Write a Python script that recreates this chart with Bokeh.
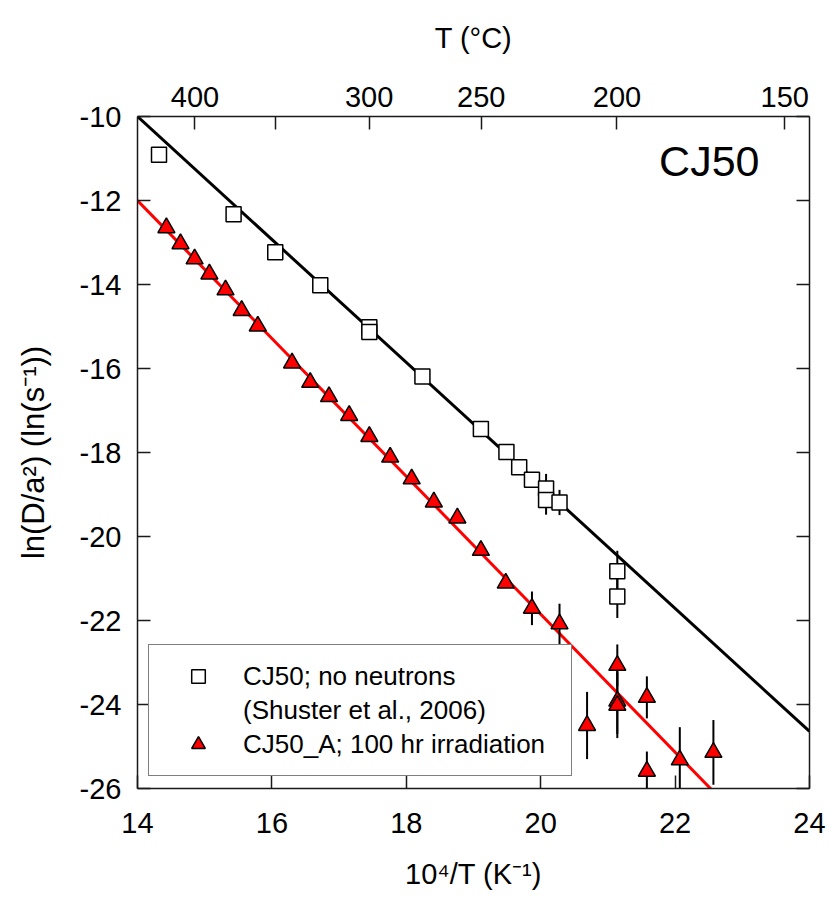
from bokeh.plotting import figure
from bokeh.models import (LinearAxis, FixedTicker, CustomJSTickFormatter, Label,
                          Legend, LegendItem, ColumnDataSource)
from bokeh.embed import file_html
from bokeh.resources import INLINE

# ---------------- data ----------------
x_ticks = [14, 16, 18, 20, 22, 24]
y_ticks = [-10, -12, -14, -16, -18, -20, -22, -24, -26]
top_temps_C = [400, 350, 300, 250, 200, 150]
top_tick_labels = ["400", "", "300", "250", "200", "150"]

x_title = "10⁴/T (K⁻¹)"
y_title = "ln(D/a²) (ln(s⁻¹))"
top_title = "T (°C)"
sample_name = "CJ50"

# CJ50; no neutrons (Shuster et al., 2006)
sq_x = [14.32, 15.43, 16.05, 16.72, 17.45, 17.45, 18.24, 19.11, 19.49, 19.68,
        19.87, 20.08, 20.08, 20.28, 21.14, 21.14]
sq_y = [-10.91, -12.33, -13.23, -14.02, -15.02, -15.13, -16.19, -17.44, -17.99, -18.35,
        -18.65, -18.86, -19.13, -19.19, -20.83, -21.43]
sq_err = [0, 0, 0, 0, 0, 0, 0, 0, 0, 0,
          0, 0.35, 0.35, 0.30, 0.49, 0.51]

# CJ50_A; 100 hr irradiation
tri_x = [14.43, 14.64, 14.85, 15.07, 15.31, 15.55, 15.79, 16.30, 16.57, 16.85,
         17.15, 17.45, 17.76, 18.08, 18.41, 18.76, 19.11, 19.48, 19.87, 20.28,
         20.69, 21.14, 21.14, 21.14, 21.58, 21.58, 22.07, 22.57]
tri_y = [-12.65, -13.03, -13.39, -13.75, -14.13, -14.62, -14.99, -15.87, -16.33, -16.67,
         -17.12, -17.62, -18.11, -18.63, -19.18, -19.56, -20.33, -21.11, -21.71, -22.08,
         -24.50, -23.07, -23.92, -24.02, -23.83, -25.59, -25.32, -25.14]
tri_err = [0, 0, 0, 0, 0, 0, 0, 0, 0, 0,
           0, 0, 0, 0, 0, 0, 0, 0, 0.40, 0.48,
           0.80, 0.50, 0.78, 0.78, 0.50, 0.47, 0.78, 0.77]

# Arrhenius fit lines
fit_x = [14.0, 24.0]
fit_black_y = [-10.0, -24.64]
fit_red_y = [-12.0, -28.42]

FONT = "Liberation Sans"
AXC = "#1a1a1a"

p = figure(frame_width=672, frame_height=672, x_range=(14, 24), y_range=(-26, -10),
           output_backend="svg", toolbar_location=None,
           x_axis_location=None, y_axis_location=None,
           min_border_left=137, min_border_right=21, min_border_top=116, min_border_bottom=117,
           background_fill_color="white", border_fill_color="white")
p.xgrid.visible = False
p.ygrid.visible = False
p.outline_line_color = None


def style_axis(ax, size="29px", standoff=16):
    ax.axis_line_color = AXC
    ax.axis_line_width = 1.5
    ax.major_tick_line_color = AXC
    ax.major_tick_line_width = 1.5
    ax.major_tick_in = 13
    ax.major_tick_out = 0
    ax.minor_tick_line_color = None
    ax.major_label_text_font = FONT
    ax.major_label_text_font_size = size
    ax.major_label_text_color = "black"
    ax.major_label_standoff = standoff
    ax.axis_label_text_font = FONT
    ax.axis_label_text_font_size = "29px"
    ax.axis_label_text_font_style = "normal"
    ax.axis_label_text_color = "black"


int_fmt = CustomJSTickFormatter(code="return String(Math.round(tick));")
blank_fmt = CustomJSTickFormatter(code="return '';")

bottom = LinearAxis(ticker=FixedTicker(ticks=x_ticks), formatter=int_fmt)
style_axis(bottom, standoff=24)
bottom.axis_label = x_title
bottom.axis_label_standoff = 22
p.add_layout(bottom, "below")

left = LinearAxis(ticker=FixedTicker(ticks=y_ticks), formatter=int_fmt)
style_axis(left, standoff=16)
left.axis_label = y_title
left.axis_label_standoff = 26
left.axis_label_text_font_size = "31px"
p.add_layout(left, "left")

right = LinearAxis(ticker=FixedTicker(ticks=y_ticks), formatter=blank_fmt)
style_axis(right)
p.add_layout(right, "right")

top_ticks = [1e4 / (t + 273.15) for t in top_temps_C]
top_fmt = CustomJSTickFormatter(args=dict(tvals=top_ticks, tlabels=top_tick_labels), code="""
for (let i = 0; i < tvals.length; i++) {
  if (Math.abs(tvals[i] - tick) < 1e-6) return tlabels[i];
}
return '';
""")
top = LinearAxis(ticker=FixedTicker(ticks=top_ticks), formatter=top_fmt)
style_axis(top, standoff=10)
top.axis_label = top_title
top.axis_label_standoff = 30
p.add_layout(top, "above")

# fit lines
p.line(fit_x, fit_black_y, line_color="black", line_width=3)
p.line(fit_x, fit_red_y, line_color="red", line_width=3)

# error bars
def err_source(xs, ys, es):
    d = dict(x=[], lo=[], hi=[])
    for x, y, e in zip(xs, ys, es):
        if e > 0:
            d["x"].append(x)
            d["lo"].append(y - e)
            d["hi"].append(y + e)
    return ColumnDataSource(d)

p.segment(x0="x", y0="lo", x1="x", y1="hi", source=err_source(sq_x, sq_y, sq_err),
          line_color="black", line_width=2)
p.segment(x0="x", y0="lo", x1="x", y1="hi", source=err_source(tri_x, tri_y, tri_err),
          line_color="black", line_width=2)

r_sq = p.scatter(sq_x, sq_y, marker="square", size=15, fill_color="white",
                 line_color="black", line_width=1.5)
r_tri = p.scatter(tri_x, tri_y, marker="triangle", size=17, fill_color="red",
                  line_color="black", line_width=1.5)
r_blank = p.scatter([], [], marker="square", size=1, fill_color=None, line_color=None)

legend = Legend(items=[
    LegendItem(label="CJ50; no neutrons", renderers=[r_sq]),
    LegendItem(label="(Shuster et al., 2006)", renderers=[r_blank]),
    LegendItem(label="CJ50_A; 100 hr irradiation", renderers=[r_tri]),
], location=(11, 12), padding=14, spacing=0, glyph_height=34, glyph_width=70,
    label_standoff=10, label_width=314, margin=0,
    label_text_font=FONT, label_text_font_size="26px", label_text_color="black",
    border_line_color="black", border_line_width=1.5, background_fill_color="white",
    background_fill_alpha=1.0)
p.add_layout(legend, "center")

p.add_layout(Label(x=622, y=628, x_units="screen", y_units="screen", text=sample_name,
                   text_font=FONT, text_font_size="43px", text_align="right",
                   text_baseline="alphabetic", text_color="black"))

open("out.html", "w").write(file_html(p, INLINE))
